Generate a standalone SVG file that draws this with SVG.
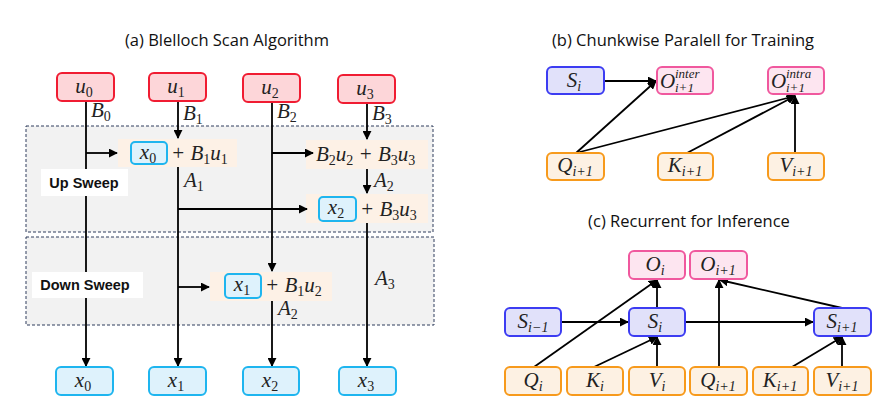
<svg xmlns="http://www.w3.org/2000/svg" width="896" height="420" viewBox="0 0 896 420">
<defs>
<marker id="ah" viewBox="0 0 10 10" refX="9" refY="5" markerWidth="5" markerHeight="5" orient="auto-start-reverse" markerUnits="strokeWidth">
<path d="M0,0 L10,5 L0,10 z" fill="#000"/>
</marker>
<style>
.title{font-family:"Open Sans","Liberation Sans",sans-serif;font-size:16.5px;fill:#111;}
.m{font-family:"Liberation Serif","DejaVu Serif",serif;font-size:21px;font-style:italic;fill:#222;}
.s{font-size:14px;font-style:normal;}
.si{font-size:14px;font-style:italic;}
.sp{font-size:13px;font-style:italic;}
.red{fill:#fdd6d9;stroke:#f01c32;stroke-width:2;}
.xb{fill:#def2fc;stroke:#1eb5ef;stroke-width:2;}
.peach{fill:#fdf1e6;stroke:none;}
.region{fill:#f2f2f2;stroke:#2e3c5c;stroke-width:1;stroke-dasharray:3,2;}
.lab{fill:#fff;stroke:none;}
.lt{font-family:"Liberation Sans","Arial",sans-serif;font-weight:bold;font-size:14.5px;fill:#111;}
.sb{fill:#e1e1fa;stroke:#3c3cf2;stroke-width:2;}
.ob{fill:#fde5f0;stroke:#f0589e;stroke-width:2;}
.qb{fill:#fdf1e3;stroke:#f79a1c;stroke-width:2;}
.ca{stroke:#000;stroke-width:1.8;fill:none;marker-end:url(#ah);}
</style>
</defs>

<!-- Titles -->
<text class="title" x="227" y="46" text-anchor="middle">(a) Blelloch Scan Algorithm</text>
<text class="title" x="683" y="46" text-anchor="middle">(b) Chunkwise Paralell for Training</text>
<text class="title" x="689" y="227" text-anchor="middle">(c) Recurrent for Inference</text>

<!-- Panel (a) regions -->
<g id="upsweep-region">
<rect class="region" x="26" y="126" width="407" height="106"/>
</g>
<g id="downsweep-region">
<rect class="region" x="26" y="237" width="408" height="88"/>
</g>

<!-- Expressions -->
<g id="expr-x0">
<rect class="peach" x="118" y="139" width="119" height="28"/>
<rect class="xb" x="131" y="142" width="36" height="22" rx="4"/>
<text class="m" x="148" y="159" text-anchor="middle">x<tspan class="s" dy="4">0</tspan></text>
<text class="m" x="171" y="160">+ B<tspan class="s" dy="4">1</tspan><tspan dy="-4">u</tspan><tspan class="s" dy="4">1</tspan></text>
</g>
<g id="expr-b2u2">
<rect class="peach" x="306" y="140" width="122" height="29"/>
<text class="m" x="316" y="161">B<tspan class="s" dy="4">2</tspan><tspan dy="-4">u</tspan><tspan class="s" dy="4">2</tspan><tspan dy="-4"> + B</tspan><tspan class="s" dy="4">3</tspan><tspan dy="-4">u</tspan><tspan class="s" dy="4">3</tspan></text>
</g>
<g id="expr-x2">
<rect class="peach" x="306" y="194" width="122" height="29"/>
<rect class="xb" x="319" y="197" width="37" height="24" rx="4"/>
<text class="m" x="336" y="214" text-anchor="middle">x<tspan class="s" dy="4">2</tspan></text>
<text class="m" x="360" y="216">+ B<tspan class="s" dy="4">3</tspan><tspan dy="-4">u</tspan><tspan class="s" dy="4">3</tspan></text>
</g>
<g id="expr-x1">
<rect class="peach" x="210" y="272" width="122" height="29"/>
<rect class="xb" x="225" y="274" width="36" height="24" rx="4"/>
<text class="m" x="242" y="291" text-anchor="middle">x<tspan class="s" dy="4">1</tspan></text>
<text class="m" x="265" y="292">+ B<tspan class="s" dy="4">1</tspan><tspan dy="-4">u</tspan><tspan class="s" dy="4">2</tspan></text>
</g>

<!-- Connectors panel (a) -->
<g id="connectors-a">
<line class="ca" x1="86" y1="101" x2="86" y2="366"/>
<line class="ca" x1="86" y1="153" x2="117" y2="153"/>
<line class="ca" x1="178" y1="101" x2="178" y2="138"/>
<line class="ca" x1="178" y1="167" x2="178" y2="366"/>
<line class="ca" x1="178" y1="209" x2="307" y2="209"/>
<line class="ca" x1="178" y1="287" x2="209" y2="287"/>
<line class="ca" x1="272" y1="102" x2="272" y2="271"/>
<line class="ca" x1="272" y1="153" x2="313" y2="153"/>
<line class="ca" x1="272" y1="301" x2="272" y2="366"/>
<line class="ca" x1="367" y1="103" x2="367" y2="139"/>
<line class="ca" x1="367" y1="169" x2="367" y2="193"/>
<line class="ca" x1="367" y1="223" x2="367" y2="366"/>
</g>

<!-- Edge labels -->
<g id="labels-a">
<text class="m" x="91" y="117">B<tspan class="s" dy="4">0</tspan></text>
<text class="m" x="183" y="120">B<tspan class="s" dy="4">1</tspan></text>
<text class="m" x="277" y="118">B<tspan class="s" dy="4">2</tspan></text>
<text class="m" x="372" y="120">B<tspan class="s" dy="4">3</tspan></text>
<text class="m" x="184" y="187">A<tspan class="s" dy="4">1</tspan></text>
<text class="m" x="374" y="187">A<tspan class="s" dy="4">2</tspan></text>
<text class="m" x="278" y="315">A<tspan class="s" dy="4">2</tspan></text>
<text class="m" x="375" y="285">A<tspan class="s" dy="4">3</tspan></text>
</g>

<!-- Sweep labels -->
<g id="upsweep-label">
<rect class="lab" x="41" y="169" width="87" height="27"/>
<text class="lt" x="84" y="188" text-anchor="middle">Up Sweep</text>
</g>
<g id="downsweep-label">
<rect class="lab" x="32" y="272" width="111" height="26"/>
<text class="lt" x="85" y="290" text-anchor="middle">Down Sweep</text>
</g>

<!-- u nodes -->
<g id="u0"><rect class="red" x="57" y="73" width="57" height="28" rx="5"/><text class="m" x="84" y="93" text-anchor="middle">u<tspan class="s" dy="4">0</tspan></text></g>
<g id="u1"><rect class="red" x="149" y="73" width="57" height="28" rx="5"/><text class="m" x="176" y="93" text-anchor="middle">u<tspan class="s" dy="4">1</tspan></text></g>
<g id="u2"><rect class="red" x="243" y="74" width="57" height="28" rx="5"/><text class="m" x="270" y="94" text-anchor="middle">u<tspan class="s" dy="4">2</tspan></text></g>
<g id="u3"><rect class="red" x="338" y="75" width="57" height="28" rx="5"/><text class="m" x="365" y="95" text-anchor="middle">u<tspan class="s" dy="4">3</tspan></text></g>

<!-- x nodes -->
<g id="x0"><rect class="xb" x="56" y="367" width="57" height="28" rx="5"/><text class="m" x="83" y="387" text-anchor="middle">x<tspan class="s" dy="4">0</tspan></text></g>
<g id="x1"><rect class="xb" x="149" y="367" width="57" height="28" rx="5"/><text class="m" x="176" y="387" text-anchor="middle">x<tspan class="s" dy="4">1</tspan></text></g>
<g id="x2"><rect class="xb" x="243" y="367" width="56" height="28" rx="5"/><text class="m" x="270" y="387" text-anchor="middle">x<tspan class="s" dy="4">2</tspan></text></g>
<g id="x3"><rect class="xb" x="339" y="367" width="57" height="28" rx="5"/><text class="m" x="366" y="387" text-anchor="middle">x<tspan class="s" dy="4">3</tspan></text></g>

<!-- Panel (b) -->
<g id="connectors-b">
<line class="ca" x1="604" y1="81" x2="656" y2="81"/>
<line class="ca" x1="576" y1="153" x2="656" y2="81"/>
<line class="ca" x1="576" y1="153" x2="795" y2="96"/>
<line class="ca" x1="687" y1="153" x2="795" y2="96"/>
<line class="ca" x1="795" y1="153" x2="795" y2="96"/>
</g>
<g id="b-Si"><rect class="sb" x="547" y="67" width="57" height="27" rx="5"/><text class="m" x="574" y="87" text-anchor="middle">S<tspan class="si" dy="4">i</tspan></text></g>
<g id="b-Ointer"><rect class="ob" x="657" y="67" width="56" height="27" rx="5"/><text class="m"><tspan x="660" y="88">O</tspan><tspan class="sp" x="675" y="78">inter</tspan><tspan class="sp" x="675" y="92">i+1</tspan></text></g>
<g id="b-Ointra"><rect class="ob" x="768" y="67" width="56" height="27" rx="5"/><text class="m"><tspan x="771" y="88">O</tspan><tspan class="sp" x="786" y="78">intra</tspan><tspan class="sp" x="786" y="92">i+1</tspan></text></g>
<g id="b-Q"><rect class="qb" x="547" y="153" width="57" height="27" rx="5"/><text class="m" x="575" y="172" text-anchor="middle">Q<tspan class="si" dy="4">i+1</tspan></text></g>
<g id="b-K"><rect class="qb" x="658" y="153" width="55" height="27" rx="5"/><text class="m" x="685" y="172" text-anchor="middle">K<tspan class="si" dy="4">i+1</tspan></text></g>
<g id="b-V"><rect class="qb" x="768" y="153" width="56" height="27" rx="5"/><text class="m" x="796" y="172" text-anchor="middle">V<tspan class="si" dy="4">i+1</tspan></text></g>

<!-- Panel (c) -->
<g id="connectors-c">
<line class="ca" x1="561" y1="322" x2="628" y2="322"/>
<line class="ca" x1="685" y1="322" x2="813" y2="322"/>
<line class="ca" x1="657" y1="308" x2="657" y2="280"/>
<line class="ca" x1="534" y1="367" x2="657" y2="280"/>
<line class="ca" x1="594" y1="367" x2="657" y2="337"/>
<line class="ca" x1="657" y1="367" x2="657" y2="337"/>
<line class="ca" x1="719" y1="367" x2="719" y2="280"/>
<line class="ca" x1="842" y1="308" x2="720" y2="280"/>
<line class="ca" x1="792" y1="367" x2="842" y2="337"/>
<line class="ca" x1="842" y1="367" x2="842" y2="337"/>
</g>
<g id="c-Oi"><rect class="ob" x="629" y="251" width="56" height="28" rx="5"/><text class="m" x="655" y="271" text-anchor="middle">O<tspan class="si" dy="4">i</tspan></text></g>
<g id="c-Oi1"><rect class="ob" x="690" y="251" width="57" height="28" rx="5"/><text class="m" x="718" y="271" text-anchor="middle">O<tspan class="si" dy="4">i+1</tspan></text></g>
<g id="c-Sim1"><rect class="sb" x="505" y="308" width="56" height="28" rx="5"/><text class="m" x="533" y="328" text-anchor="middle">S<tspan class="si" dy="4">i−1</tspan></text></g>
<g id="c-Si"><rect class="sb" x="629" y="308" width="56" height="28" rx="5"/><text class="m" x="655" y="328" text-anchor="middle">S<tspan class="si" dy="4">i</tspan></text></g>
<g id="c-Si1"><rect class="sb" x="814" y="308" width="57" height="28" rx="5"/><text class="m" x="842" y="328" text-anchor="middle">S<tspan class="si" dy="4">i+1</tspan></text></g>
<g id="c-Qi"><rect class="qb" x="505" y="367" width="56" height="28" rx="5"/><text class="m" x="533" y="387" text-anchor="middle">Q<tspan class="si" dy="4">i</tspan></text></g>
<g id="c-Ki"><rect class="qb" x="567" y="367" width="56" height="28" rx="5"/><text class="m" x="595" y="387" text-anchor="middle">K<tspan class="si" dy="4">i</tspan></text></g>
<g id="c-Vi"><rect class="qb" x="629" y="367" width="56" height="28" rx="5"/><text class="m" x="657" y="387" text-anchor="middle">V<tspan class="si" dy="4">i</tspan></text></g>
<g id="c-Qi1"><rect class="qb" x="690" y="367" width="57" height="28" rx="5"/><text class="m" x="718" y="387" text-anchor="middle">Q<tspan class="si" dy="4">i+1</tspan></text></g>
<g id="c-Ki1"><rect class="qb" x="753" y="367" width="55" height="28" rx="5"/><text class="m" x="780" y="387" text-anchor="middle">K<tspan class="si" dy="4">i+1</tspan></text></g>
<g id="c-Vi1"><rect class="qb" x="814" y="367" width="57" height="28" rx="5"/><text class="m" x="842" y="387" text-anchor="middle">V<tspan class="si" dy="4">i+1</tspan></text></g>
</svg>
